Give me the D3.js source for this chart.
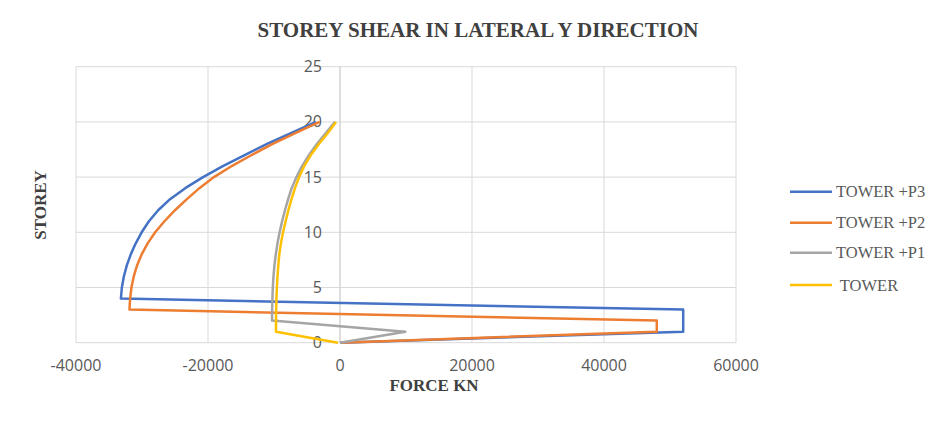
<!DOCTYPE html>
<html>
<head>
<meta charset="utf-8">
<script src="https://cdn.jsdelivr.net/npm/d3@7"></script>
<style>
  body { margin: 0; background: #fff; }
  svg { display: block; }
</style>
</head>
<body>
<div id="chart"></div>
<script>
// Storey numbers (y values)
const storeys = [0, 1, 2, 3, 4, 5, 6, 7, 8, 9, 10, 11, 12, 13, 14, 15, 16, 17, 18, 19, 20];

// Storey shear (kN) for each model
const towerP3 = [0, 52000, 52000, 52000, -33200, -33050, -32750, -32300, -31700, -30950, -30050,
  -28950, -27550, -25750, -23450, -20750, -17750, -14450, -11050, -7350, -3650];
const towerP2 = [0, 48000, 48000, -31900, -31800, -31600, -31250, -30750, -30050, -29150, -28000,
  -26600, -25000, -23200, -21300, -19100, -16400, -13400, -10200, -6700, -3100];
const towerP1 = [0, 9900, -10300, -10280, -10240, -10180, -10080, -9930, -9730, -9470, -9150,
  -8770, -8340, -7860, -7320, -6600, -5750, -4700, -3500, -2150, -750];
const tower = [-300, -9700, -9690, -9670, -9630, -9560, -9470, -9350, -9200, -8950, -8630,
  -8240, -7820, -7350, -6820, -6200, -5420, -4420, -3200, -1850, -600];

const seriesNames = ["TOWER +P3", "TOWER +P2", "TOWER +P1", " TOWER"];
const seriesColors = ["#4472C4", "#ED7D31", "#A5A5A5", "#FFC000"];
const xTicks = [-40000, -20000, 0, 20000, 40000, 60000];
const yTicks = [0, 5, 10, 15, 20, 25];

const width = 938, height = 431;
const plot = { left: 76, right: 736, top: 66.7, bottom: 342.7 };

const svg = d3.select("#chart").append("svg")
  .attr("width", width)
  .attr("height", height);

const x = d3.scaleLinear().domain([-40000, 60000]).range([plot.left, plot.right]);
const y = d3.scaleLinear().domain([0, 25]).range([plot.bottom, plot.top]);

const labelFont = "'Open Sans', 'Liberation Sans', sans-serif";
const serif = "'Liberation Serif', 'Times New Roman', serif";

// Gridlines
svg.append("g")
  .selectAll("line")
  .data(yTicks)
  .join("line")
  .attr("x1", plot.left).attr("x2", plot.right)
  .attr("y1", d => y(d)).attr("y2", d => y(d))
  .attr("stroke", "#d9d9d9").attr("stroke-width", 1);

svg.append("g")
  .selectAll("line")
  .data(xTicks)
  .join("line")
  .attr("x1", d => x(d)).attr("x2", d => x(d))
  .attr("y1", plot.top).attr("y2", plot.bottom)
  .attr("stroke", "#d9d9d9").attr("stroke-width", 1);

// Vertical axis sits at x = 0
svg.append("line")
  .attr("x1", x(0)).attr("x2", x(0))
  .attr("y1", plot.top).attr("y2", plot.bottom)
  .attr("stroke", "#d0d0d0").attr("stroke-width", 1);

// X tick labels
svg.append("g")
  .selectAll("text")
  .data(xTicks)
  .join("text")
  .attr("x", d => x(d))
  .attr("y", 371)
  .attr("text-anchor", "middle")
  .attr("font-family", labelFont)
  .attr("font-size", "16px")
  .attr("fill", "#595959")
  .text(d => d);

// Y tick labels (next to the axis at x = 0)
svg.append("g")
  .selectAll("text")
  .data(yTicks)
  .join("text")
  .attr("x", x(0) - 18)
  .attr("y", d => y(d) + 5.5)
  .attr("text-anchor", "end")
  .attr("font-family", labelFont)
  .attr("font-size", "16px")
  .attr("fill", "#595959")
  .text(d => d);

// Lines
const allSeries = [towerP3, towerP2, towerP1, tower];
const line = d3.line()
  .x(d => x(d[0]))
  .y(d => y(d[1]));

svg.append("g")
  .selectAll("path")
  .data(allSeries)
  .join("path")
  .attr("d", s => line(s.map((v, i) => [v, storeys[i]])))
  .attr("fill", "none")
  .attr("stroke", (d, i) => seriesColors[i])
  .attr("stroke-width", 2.5)
  .attr("stroke-linejoin", "round");

// Titles
svg.append("text")
  .attr("x", 478).attr("y", 37)
  .attr("text-anchor", "middle")
  .attr("font-family", serif)
  .attr("font-weight", "bold")
  .attr("font-size", "21px")
  .attr("fill", "#404040")
  .text("STOREY SHEAR IN LATERAL Y DIRECTION");

svg.append("text")
  .attr("x", 434).attr("y", 391)
  .attr("text-anchor", "middle")
  .attr("font-family", serif)
  .attr("font-weight", "bold")
  .attr("font-size", "17px")
  .attr("fill", "#404040")
  .text("FORCE KN");

svg.append("text")
  .attr("transform", "translate(46,205) rotate(-90)")
  .attr("text-anchor", "middle")
  .attr("font-family", serif)
  .attr("font-weight", "bold")
  .attr("font-size", "17px")
  .attr("fill", "#404040")
  .text("STOREY");

// Legend
const legendY = [191.7, 222.7, 252.7, 285];
const legend = svg.append("g")
  .selectAll("g")
  .data(seriesNames)
  .join("g")
  .attr("transform", (d, i) => `translate(790,${legendY[i]})`);

legend.append("line")
  .attr("x1", 0).attr("x2", 42)
  .attr("stroke", (d, i) => seriesColors[i])
  .attr("stroke-width", 2.5);

legend.append("text")
  .attr("x", 46)
  .attr("y", 5.5)
  .attr("xml:space", "preserve")
  .attr("font-family", serif)
  .attr("font-size", "16.5px")
  .attr("fill", "#595959")
  .text(d => d);
</script>
</body>
</html>
